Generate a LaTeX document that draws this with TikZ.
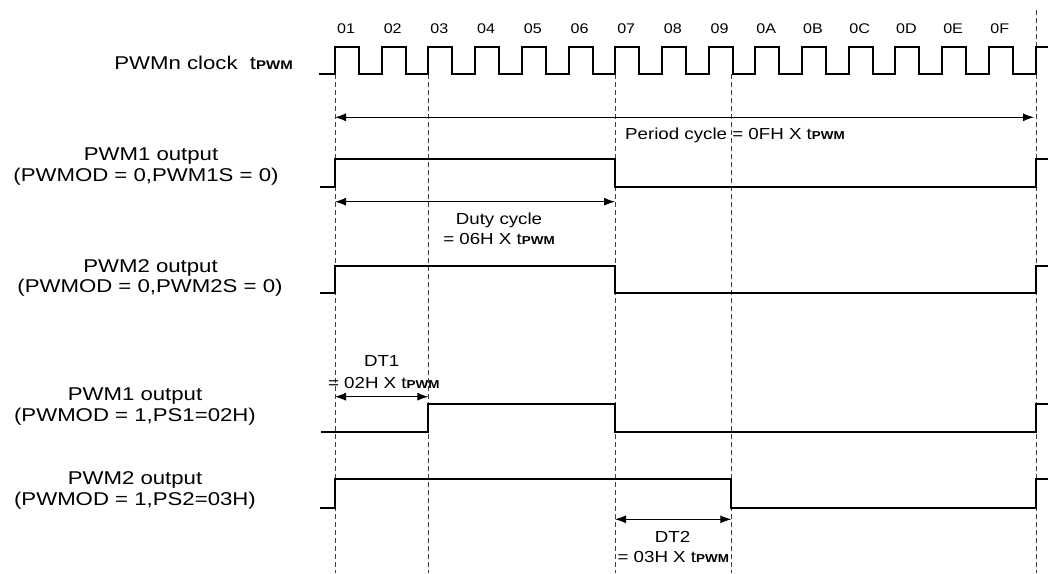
\documentclass[tikz,border=0pt]{standalone}
\usepackage{fontspec}
\setmainfont{Liberation Sans}
\usepackage{graphicx}
\usetikzlibrary{arrows.meta}
\newcommand\bigT[1]{\scalebox{1.2}[1]{\fontsize{18.5}{21}\selectfont #1}}
\newcommand\midT[1]{\scalebox{1.17}[1]{\fontsize{16}{19}\selectfont #1}}
\newcommand\smT[1]{\scalebox{1.15}[1]{\fontsize{14}{16}\selectfont #1}}
\newcommand\tpA{t{\fontsize{12.5}{14}\selectfont\bfseries PWM}}
\newcommand\tpB{t{\fontsize{11.5}{13}\selectfont\bfseries PWM}}
\tikzset{
  sig/.style={line width=2pt, line join=miter, black},
  guide/.style={line width=0.9pt, dash pattern=on 5pt off 3pt, black!75},
  dimline/.style={line width=0.9pt, {Latex[length=11pt,width=8pt]}-{Latex[length=11pt,width=8pt]}},
  txt/.style={inner sep=0pt, anchor=base},
}
\begin{document}
\begin{tikzpicture}[x=1pt,y=-1pt]
\useasboundingbox (0,0) rectangle (1048,573);
% guide coordinates
\coordinate (g1t) at (335,74);   \coordinate (g1b) at (335,573);
\coordinate (g3t) at (428.3,74); \coordinate (g3b) at (428.3,573);
\coordinate (g7t) at (615,74);   \coordinate (g7b) at (615,573);
\coordinate (g9t) at (731.3,74); \coordinate (g9b) at (731.3,573);
\coordinate (gFt) at (1036,10);  \coordinate (gFb) at (1036,573);
\foreach \g in {1,3,7,9,F} \draw[guide] (g\g t) -- (g\g b);

% clock
\draw[sig] (319,74) -- (335,74)
  \foreach \k in {0,...,14}{ -- ++(0,-27) -- ++(24,0) -- ++(0,27) -- ++(22.7,0) }
  -- ++(0,-27) -- (1048,47);
\foreach \l [count=\i from 0] in {01,02,03,04,05,06,07,08,09,0A,0B,0C,0D,0E,0F}
  \node[txt] (c\l) at ({335+\i*46.7+11},33) {\smT{\l}};

% waveforms
\draw[sig] (320,187.3) -- (335,187.3) -- (335,159.3) -- (615,159.3) -- (615,187.3) -- (1036,187.3) -- (1036,159.3) -- (1048,159.3);
\draw[sig] (320,293.3) -- (335,293.3) -- (335,266) -- (615,266) -- (615,293.3) -- (1036,293.3) -- (1036,266) -- (1048,266);
\draw[sig] (321,431.5) -- (428.3,431.5) -- (428.3,404) -- (615,404) -- (615,431.5) -- (1036,431.5) -- (1036,404) -- (1048,404);
\draw[sig] (320,507.7) -- (335,507.7) -- (335,479.3) -- (731.3,479.3) -- (731.3,507.7) -- (1036,507.7) -- (1036,479.3) -- (1048,479.3);

% dimension arrows
\coordinate (pA) at (335,117.3); \coordinate (pB) at (1034,117.3);
\draw[dimline] (pA) -- (pB);
\coordinate (dA) at (335,201.7); \coordinate (dB) at (615,201.7);
\draw[dimline] (dA) -- (dB);
\coordinate (t1A) at (335,396.7); \coordinate (t1B) at (428.3,396.7);
\draw[dimline] (t1A) -- (t1B);
\coordinate (t2A) at (615,519.3); \coordinate (t2B) at (731.3,519.3);
\draw[dimline] (t2A) -- (t2B);

% annotation texts
\node[txt, anchor=base west] (period) at (625,139) {\midT{Period cycle = 0FH X \tpB}};
\node[txt] (duty1) at (499,224) {\midT{Duty cycle}};
\node[txt] (duty2) at (499,244) {\midT{= 06H X \tpB}};
\node[txt] (dt1a) at (381.7,366.7) {\midT{DT1}};
\node[txt] (dt1b) at (383.8,388.3) {\midT{= 02H X \tpB}};
\node[txt] (dt2a) at (672.5,542.3) {\midT{DT2}};
\node[txt] (dt2b) at (673.3,562.7) {\midT{= 03H X \tpB}};

% left labels
\node[txt, anchor=base east] (clk) at (293,69) {\bigT{PWMn clock\ \ \tpA}};
\node[txt] (l1a) at (151,160.7) {\bigT{PWM1 output}};
\node[txt] (l1b) at (146,181.5) {\bigT{(PWMOD = 0,PWM1S = 0)}};
\node[txt] (l2a) at (150.5,272.7) {\bigT{PWM2 output}};
\node[txt] (l2b) at (150,292.8) {\bigT{(PWMOD = 0,PWM2S = 0)}};
\node[txt] (l3a) at (135,400.7) {\bigT{PWM1 output}};
\node[txt] (l3b) at (135,421.5) {\bigT{(PWMOD = 1,PS1=02H)}};
\node[txt] (l4a) at (135,484) {\bigT{PWM2 output}};
\node[txt] (l4b) at (135,505.5) {\bigT{(PWMOD = 1,PS2=03H)}};
\end{tikzpicture}
\end{document}
